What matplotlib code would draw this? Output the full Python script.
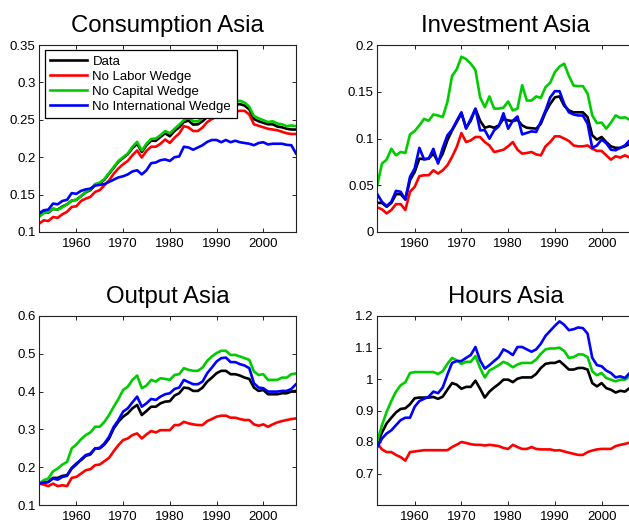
import matplotlib
matplotlib.use("Agg")
import matplotlib.pyplot as plt

plt.rcParams['font.family'] = ['Liberation Sans', 'DejaVu Sans']

years = list(range(1952, 2008))
series_names = ["Data", "No Labor Wedge", "No Capital Wedge", "No International Wedge"]
series_colors = ["#000000", "#ff0000", "#00cc00", "#0000ff"]

cons_data = [0.123, 0.127, 0.126, 0.131, 0.130, 0.134, 0.137, 0.142, 0.143, 0.148,
             0.153, 0.156, 0.163, 0.165, 0.170, 0.178, 0.186, 0.194, 0.199, 0.204,
             0.212, 0.218, 0.207, 0.216, 0.222, 0.222, 0.227, 0.232, 0.228, 0.235,
             0.240, 0.247, 0.249, 0.2435, 0.244, 0.248, 0.254, 0.258, 0.262, 0.264,
             0.266, 0.268, 0.270, 0.271, 0.269, 0.264, 0.251, 0.248, 0.246, 0.244,
             0.244, 0.241, 0.240, 0.238, 0.237, 0.237]
cons_labor = [0.111, 0.1156, 0.1147, 0.120, 0.119, 0.1237, 0.127, 0.1335, 0.1344, 0.1415,
              0.1446, 0.147, 0.1535, 0.156, 0.1625, 0.169, 0.178, 0.185, 0.1906, 0.195,
              0.2027, 0.209, 0.1996, 0.2085, 0.214, 0.214, 0.218, 0.2237, 0.219, 0.226,
              0.2317, 0.2415, 0.2397, 0.235, 0.235, 0.2397, 0.247, 0.251, 0.254, 0.256,
              0.258, 0.259, 0.261, 0.262, 0.262, 0.257, 0.244, 0.242, 0.240, 0.238,
              0.237, 0.236, 0.234, 0.232, 0.231, 0.231]
cons_capital = [0.120, 0.125, 0.127, 0.131, 0.130, 0.133, 0.137, 0.142, 0.143, 0.148,
                0.1535, 0.157, 0.164, 0.166, 0.171, 0.179, 0.187, 0.195, 0.200, 0.205,
                0.214, 0.2205, 0.209, 0.218, 0.2245, 0.225, 0.2295, 0.235, 0.232, 0.238,
                0.2435, 0.2495, 0.253, 0.248, 0.248, 0.252, 0.258, 0.262, 0.266, 0.268,
                0.270, 0.272, 0.274, 0.2755, 0.273, 0.2675, 0.255, 0.252, 0.2495, 0.247,
                0.248, 0.245, 0.244, 0.2415, 0.2425, 0.2415]
cons_intl = [0.125, 0.129, 0.130, 0.138, 0.137, 0.1415, 0.143, 0.152, 0.151, 0.155,
             0.157, 0.158, 0.162, 0.163, 0.164, 0.167, 0.170, 0.173, 0.1745, 0.177,
             0.181, 0.1825, 0.177, 0.1825, 0.192, 0.193, 0.196, 0.197, 0.195, 0.200,
             0.201, 0.214, 0.213, 0.210, 0.213, 0.216, 0.2205, 0.223, 0.223, 0.220,
             0.223, 0.220, 0.222, 0.220, 0.219, 0.218, 0.216, 0.219, 0.220, 0.217,
             0.218, 0.218, 0.218, 0.2165, 0.216, 0.205]

inv_data = [0.0313, 0.031, 0.027, 0.031, 0.0405, 0.0405, 0.0348, 0.0554, 0.0643, 0.0785,
            0.0778, 0.0785, 0.0838, 0.0749, 0.0838, 0.098, 0.1087, 0.1175, 0.127, 0.1115,
            0.119, 0.1318, 0.119, 0.1115, 0.113, 0.1115, 0.114, 0.121, 0.1193, 0.1186,
            0.120, 0.114, 0.1115, 0.111, 0.1105, 0.1158, 0.128, 0.137, 0.144, 0.145,
            0.135, 0.130, 0.128, 0.128, 0.128, 0.1229, 0.1034, 0.0988, 0.1016, 0.0962,
            0.0916, 0.090, 0.090, 0.0916, 0.094, 0.095]
inv_labor = [0.0263, 0.0242, 0.0199, 0.0235, 0.0298, 0.0298, 0.0235, 0.043, 0.0483, 0.0597,
             0.0607, 0.0607, 0.066, 0.0625, 0.066, 0.0714, 0.0803, 0.0909, 0.1058, 0.0962,
             0.098, 0.1016, 0.1016, 0.0962, 0.0926, 0.0856, 0.0867, 0.088, 0.0916, 0.0962,
             0.088, 0.0838, 0.0845, 0.0856, 0.083, 0.082, 0.0916, 0.0962, 0.1023, 0.1023,
             0.100, 0.0973, 0.0926, 0.0916, 0.0916, 0.0926, 0.0891, 0.0867, 0.0867, 0.082,
             0.0774, 0.081, 0.0796, 0.082, 0.0796, 0.079]
inv_capital = [0.050, 0.0732, 0.0774, 0.089, 0.082, 0.0856, 0.0845, 0.1044, 0.108, 0.114,
               0.121, 0.119, 0.1257, 0.1246, 0.1229, 0.139, 0.167, 0.174, 0.1875, 0.185,
               0.180, 0.1733, 0.144, 0.1335, 0.145, 0.132, 0.132, 0.133, 0.1396, 0.130,
               0.132, 0.157, 0.1406, 0.1406, 0.145, 0.1435, 0.155, 0.1595, 0.171, 0.177,
               0.180, 0.167, 0.1566, 0.156, 0.156, 0.148, 0.1247, 0.1165, 0.117, 0.1105,
               0.117, 0.1247, 0.122, 0.1226, 0.120, 0.120]
inv_intl = [0.0405, 0.0323, 0.0277, 0.0323, 0.044, 0.043, 0.0348, 0.059, 0.068, 0.090,
            0.0778, 0.0785, 0.089, 0.0732, 0.090, 0.1034, 0.1094, 0.119, 0.128, 0.1105,
            0.121, 0.1318, 0.1087, 0.109, 0.0998, 0.1087, 0.113, 0.127, 0.1105, 0.119,
            0.1236, 0.1044, 0.106, 0.1076, 0.107, 0.118, 0.130, 0.144, 0.1506, 0.1506,
            0.137, 0.128, 0.1257, 0.1246, 0.1246, 0.1158, 0.090, 0.0926, 0.0988, 0.095,
            0.088, 0.0874, 0.090, 0.0926, 0.098, 0.100]

out_data = [0.1566, 0.159, 0.161, 0.1717, 0.1717, 0.177, 0.1788, 0.198, 0.2097, 0.2186,
            0.230, 0.2336, 0.2496, 0.2496, 0.260, 0.276, 0.3027, 0.3204, 0.3336, 0.3425,
            0.3558, 0.3646, 0.338, 0.3487, 0.360, 0.360, 0.369, 0.3735, 0.3745, 0.3894,
            0.3956, 0.4106, 0.409, 0.4018, 0.4018, 0.4106, 0.4265, 0.437, 0.4487, 0.4549,
            0.4549, 0.446, 0.446, 0.4425, 0.437, 0.4336, 0.4106, 0.4018, 0.4044, 0.393,
            0.393, 0.393, 0.3956, 0.3956, 0.400, 0.4018]
out_labor = [0.1566, 0.154, 0.150, 0.1566, 0.150, 0.1522, 0.150, 0.1717, 0.1743, 0.183,
             0.192, 0.1947, 0.2053, 0.207, 0.216, 0.2248, 0.2425, 0.2584, 0.2717, 0.276,
             0.285, 0.2894, 0.276, 0.2867, 0.2956, 0.292, 0.298, 0.298, 0.298, 0.3115,
             0.3115, 0.320, 0.316, 0.3133, 0.3115, 0.3115, 0.322, 0.3274, 0.3336, 0.3363,
             0.3363, 0.331, 0.331, 0.3274, 0.3248, 0.3248, 0.3133, 0.3097, 0.3133, 0.307,
             0.3133, 0.3186, 0.322, 0.3248, 0.3274, 0.329]
out_capital = [0.1566, 0.1655, 0.170, 0.189, 0.1965, 0.207, 0.214, 0.2496, 0.260, 0.274,
               0.285, 0.292, 0.307, 0.307, 0.320, 0.338, 0.360, 0.3805, 0.4044, 0.413,
               0.431, 0.4425, 0.409, 0.416, 0.431, 0.4265, 0.4354, 0.4336, 0.431, 0.444,
               0.446, 0.462, 0.4575, 0.455, 0.455, 0.4637, 0.4814, 0.493, 0.5018, 0.508,
               0.508, 0.497, 0.497, 0.493, 0.4885, 0.484, 0.453, 0.444, 0.446, 0.431,
               0.431, 0.431, 0.437, 0.437, 0.446, 0.448]
out_intl = [0.1566, 0.159, 0.161, 0.170, 0.167, 0.1743, 0.177, 0.1965, 0.207, 0.221,
            0.232, 0.236, 0.2496, 0.2513, 0.263, 0.2805, 0.307, 0.3248, 0.347, 0.3558,
            0.3717, 0.3867, 0.360, 0.369, 0.3805, 0.378, 0.3867, 0.393, 0.3956, 0.407,
            0.4106, 0.431, 0.425, 0.4195, 0.4195, 0.4265, 0.4487, 0.4637, 0.4796, 0.4885,
            0.490, 0.478, 0.478, 0.4726, 0.469, 0.462, 0.422, 0.4106, 0.409, 0.400,
            0.400, 0.400, 0.4018, 0.4018, 0.407, 0.4195]

hrs_data = [0.7946, 0.830, 0.859, 0.877, 0.894, 0.905, 0.907, 0.920, 0.939, 0.941,
            0.941, 0.941, 0.943, 0.937, 0.944, 0.966, 0.987, 0.982, 0.969, 0.975,
            0.975, 0.9947, 0.969, 0.941, 0.960, 0.973, 0.984, 0.998, 0.998, 0.990,
            1.001, 1.005, 1.005, 1.005, 1.016, 1.035, 1.048, 1.051, 1.051, 1.057,
            1.044, 1.030, 1.030, 1.035, 1.035, 1.030, 0.987, 0.9765, 0.987, 0.971,
            0.966, 0.957, 0.9626, 0.960, 0.971, 0.970]
hrs_labor = [0.795, 0.7765, 0.768, 0.768, 0.759, 0.752, 0.741, 0.768, 0.770, 0.772,
             0.774, 0.774, 0.774, 0.774, 0.774, 0.774, 0.784, 0.7914, 0.800, 0.797,
             0.793, 0.791, 0.791, 0.789, 0.791, 0.789, 0.787, 0.781, 0.778, 0.791,
             0.784, 0.778, 0.778, 0.784, 0.778, 0.7765, 0.7765, 0.7765, 0.773, 0.774,
             0.770, 0.766, 0.7626, 0.759, 0.759, 0.768, 0.773, 0.7765, 0.778, 0.778,
             0.778, 0.787, 0.791, 0.794, 0.798, 0.800]
hrs_capital = [0.802, 0.8535, 0.896, 0.930, 0.960, 0.980, 0.990, 1.019, 1.022, 1.022,
               1.022, 1.022, 1.022, 1.016, 1.025, 1.048, 1.067, 1.059, 1.048, 1.0545,
               1.0545, 1.073, 1.035, 1.005, 1.027, 1.035, 1.044, 1.0545, 1.048, 1.037,
               1.046, 1.051, 1.051, 1.051, 1.062, 1.080, 1.094, 1.097, 1.097, 1.0995,
               1.089, 1.067, 1.0695, 1.078, 1.078, 1.0695, 1.0246, 1.012, 1.019, 1.003,
               0.998, 0.9925, 0.998, 0.998, 1.0085, 1.02]
hrs_intl = [0.784, 0.811, 0.827, 0.837, 0.8535, 0.8695, 0.877, 0.877, 0.912, 0.930,
            0.937, 0.944, 0.960, 0.955, 0.973, 1.014, 1.051, 1.057, 1.057, 1.067,
            1.076, 1.1016, 1.059, 1.033, 1.044, 1.057, 1.0695, 1.094, 1.0866, 1.076,
            1.1016, 1.1016, 1.094, 1.0866, 1.094, 1.112, 1.137, 1.153, 1.169, 1.183,
            1.172, 1.155, 1.158, 1.1636, 1.1615, 1.144, 1.0674, 1.044, 1.0406, 1.0267,
            1.019, 1.005, 1.0085, 1.003, 1.019, 1.03]

x_ticks = [1960, 1970, 1980, 1990, 2000]

panels = [
    dict(title="Consumption Asia", series=[cons_data, cons_labor, cons_capital, cons_intl],
         ylim=(0.1, 0.35), yticks=[0.1, 0.15, 0.2, 0.25, 0.3, 0.35],
         ylabels=["0.1", "0.15", "0.2", "0.25", "0.3", "0.35"], legend=True),
    dict(title="Investment Asia", series=[inv_data, inv_labor, inv_capital, inv_intl],
         ylim=(0.0, 0.2), yticks=[0, 0.05, 0.1, 0.15, 0.2],
         ylabels=["0", "0.05", "0.1", "0.15", "0.2"], legend=False),
    dict(title="Output Asia", series=[out_data, out_labor, out_capital, out_intl],
         ylim=(0.1, 0.6), yticks=[0.1, 0.2, 0.3, 0.4, 0.5, 0.6],
         ylabels=["0.1", "0.2", "0.3", "0.4", "0.5", "0.6"], legend=False),
    dict(title="Hours Asia", series=[hrs_data, hrs_labor, hrs_capital, hrs_intl],
         ylim=(0.6, 1.2), yticks=[0.7, 0.8, 0.9, 1.0, 1.1, 1.2],
         ylabels=["0.7", "0.8", "0.9", "1", "1.1", "1.2"], legend=False),
]

W, H = 629, 522
fig = plt.figure(figsize=(W / 100, H / 100), dpi=100)

# axes rectangles in pixels: (left, top, width, height)
rects = [(39, 45, 257, 187), (377.3, 45, 257, 187),
         (39, 316, 257, 189), (377.3, 316, 257, 189)]

for p, (l, t, w, h) in zip(panels, rects):
    ax = fig.add_axes([l / W, 1 - (t + h) / H, w / W, h / H])
    for vals, name, col in zip(p["series"], series_names, series_colors):
        ax.plot(years, vals, color=col, lw=1.9, label=name)
    ax.set_xlim(1952, 2007)
    ax.set_ylim(*p["ylim"])
    ax.set_xticks(x_ticks)
    ax.set_xticklabels([str(v) for v in x_ticks])
    ax.set_yticks(p["yticks"])
    ax.set_yticklabels(p["ylabels"])
    ax.tick_params(direction="in", top=True, right=True, length=3, width=0.6,
                   labelsize=9.5, colors="black")
    ax.tick_params(axis="x", pad=4)
    ax.tick_params(axis="y", pad=2.5)
    for s in ax.spines.values():
        s.set_linewidth(0.8)
        s.set_color("#222222")
    ax.set_title(p["title"], fontsize=17.3, pad=9.5)
    if p["legend"]:
        leg = ax.legend(loc="upper left", bbox_to_anchor=(6 / 257, 1 - 5 / 187),
                        borderaxespad=0, fontsize=9.5, frameon=True, fancybox=False,
                        framealpha=1, edgecolor="black", handlelength=2.8,
                        handletextpad=0.4, labelspacing=0.22, borderpad=0.4)
        leg.get_frame().set_linewidth(0.9)

fig.savefig("out.png", dpi=100)
